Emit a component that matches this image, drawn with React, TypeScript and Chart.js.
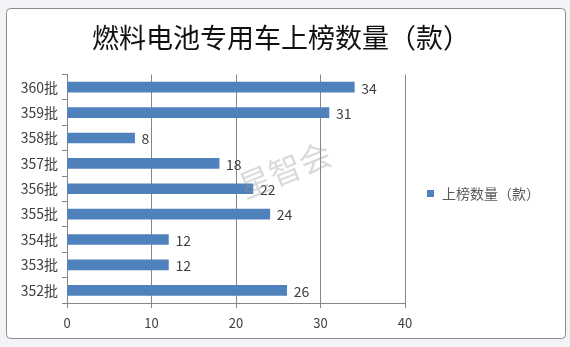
import React, { useEffect, useRef } from "react";
import { Chart, registerables } from "chart.js";

Chart.register(...registerables);

const titleText = "燃料电池专用车上榜数量（款）";
const seriesName = "上榜数量（款）";
const watermarkText = "星智会";
const categories = ["360批", "359批", "358批", "357批", "356批", "355批", "354批", "353批", "352批"];
const values = [34, 31, 8, 18, 22, 24, 12, 12, 26];
const xMin = 0;
const xMax = 40;
const xStep = 10;

const FONT = '"Noto Sans CJK SC", "Noto Sans", sans-serif';
const BAR = "#4f81bd";
const GRID = "#868686";
const TEXT = "#404040";

const decor = {
  id: "decor",
  beforeDraw(chart: any) {
    const ctx = chart.ctx;
    const W = chart.width;
    const H = chart.height;
    ctx.save();
    ctx.fillStyle = "#f1f3f6";
    ctx.fillRect(0, 0, W, H);
    const x0 = 6.5, y0 = 8.5, x1 = 565.5, y1 = 338.5, r = 4;
    ctx.beginPath();
    ctx.moveTo(x0 + r, y0);
    ctx.lineTo(x1 - r, y0);
    ctx.quadraticCurveTo(x1, y0, x1, y0 + r);
    ctx.lineTo(x1, y1 - r);
    ctx.quadraticCurveTo(x1, y1, x1 - r, y1);
    ctx.lineTo(x0 + r, y1);
    ctx.quadraticCurveTo(x0, y1, x0, y1 - r);
    ctx.lineTo(x0, y0 + r);
    ctx.quadraticCurveTo(x0, y0, x0 + r, y0);
    ctx.closePath();
    ctx.fillStyle = "#ffffff";
    ctx.fill();
    ctx.strokeStyle = "#8c8c8c";
    ctx.lineWidth = 1;
    ctx.stroke();
    ctx.restore();
  },
  afterDatasetsDraw(chart: any) {
    const ctx = chart.ctx;
    const meta = chart.getDatasetMeta(0);
    ctx.save();
    ctx.font = `14px ${FONT}`;
    ctx.fillStyle = TEXT;
    ctx.textAlign = "left";
    ctx.textBaseline = "middle";
    meta.data.forEach((el: any, i: number) => {
      ctx.fillText(String(chart.data.datasets[0].data[i]), el.x + 7, el.y + 1);
    });
    ctx.restore();
  },
  afterDraw(chart: any) {
    const ctx = chart.ctx;
    ctx.save();
    // title
    ctx.font = `400 27px ${FONT}`;
    ctx.fillStyle = "#111111";
    ctx.textAlign = "center";
    ctx.textBaseline = "middle";
    ctx.fillText(titleText, 281, 38);
    // legend
    ctx.fillStyle = BAR;
    ctx.fillRect(427, 190, 7, 7);
    ctx.font = `14px ${FONT}`;
    ctx.fillStyle = "#595959";
    ctx.textAlign = "left";
    ctx.fillText(seriesName, 442, 194);
    // watermark
    ctx.translate(285, 170);
    ctx.rotate(-22 * Math.PI / 180);
    ctx.font = `32px ${FONT}`;
    ctx.fillStyle = "rgba(150,150,150,0.35)";
    ctx.textAlign = "center";
    ctx.fillText(watermarkText, 0, 0);
    ctx.restore();
  },
};

export default function App() {
  const ref = useRef<HTMLCanvasElement | null>(null);
  useEffect(() => {
    if (!ref.current) return;
    const chart = new Chart(ref.current, {
      type: "bar",
      data: {
        labels: categories,
        datasets: [
          {
            label: seriesName,
            data: values,
            backgroundColor: BAR,
            borderWidth: 0,
            barThickness: 10,
          },
        ],
      },
      options: {
        indexAxis: "y",
        responsive: false,
        animation: false,
        devicePixelRatio: 1,
        layout: { padding: { top: 74.5, right: 165, left: 0, bottom: 0 } },
        plugins: {
          legend: { display: false },
          title: { display: false },
          tooltip: { enabled: false },
        },
        scales: {
          x: {
            type: "linear",
            min: xMin,
            max: xMax,
            ticks: { stepSize: xStep, color: TEXT, font: { size: 13, family: FONT }, padding: 7 },
            grid: { color: GRID, tickLength: 5, drawOnChartArea: true, tickColor: GRID },
            border: { display: true, color: GRID },
            afterFit: (s: any) => { s.height = 44; },
          },
          y: {
            type: "category",
            ticks: { color: TEXT, font: { size: 14, family: FONT }, padding: 4 },
            grid: { drawOnChartArea: false, tickLength: 5, color: GRID, offset: true },
            border: { display: true, color: GRID },
            afterFit: (s: any) => { s.width = 67; },
          },
        },
      } as any,
      plugins: [decor],
    });
    return () => chart.destroy();
  }, []);
  return (
    <div style={{ position: "fixed", left: 0, top: 0, width: 570, height: 347 }}>
      <canvas ref={ref} width={570} height={347} />
    </div>
  );
}
